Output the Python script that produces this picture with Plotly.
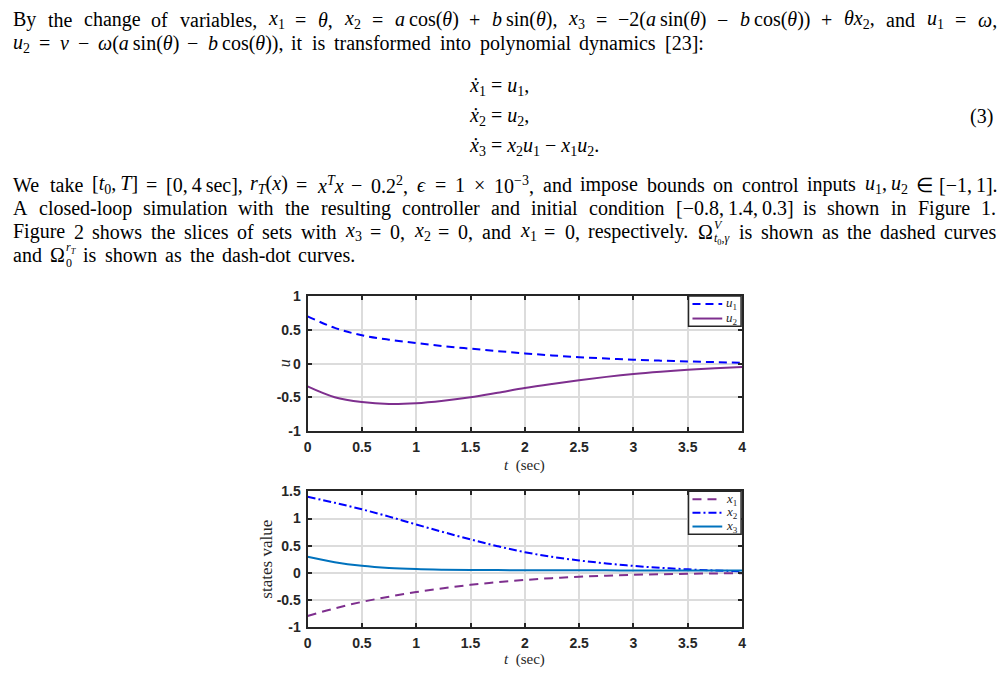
import re
import plotly.graph_objects as go

# ---------------- data ----------------
t = [0, 0.25, 0.5, 0.75, 1, 1.25, 1.5, 1.75, 2, 2.25, 2.5, 2.75, 3, 3.25, 3.5, 3.75, 4]

u1 = [0.70, 0.53, 0.42, 0.355, 0.305, 0.26, 0.222, 0.186, 0.152, 0.122, 0.097, 0.076, 0.058, 0.045, 0.034, 0.023, 0.013]
u2 = [-0.335, -0.495, -0.567, -0.596, -0.585, -0.548, -0.497, -0.43, -0.36, -0.30, -0.245, -0.195, -0.152, -0.118, -0.09, -0.068, -0.05]

x1 = [-0.795, -0.655, -0.536, -0.44, -0.355, -0.285, -0.222, -0.173, -0.132, -0.098, -0.072, -0.052, -0.037, -0.026, -0.018, -0.011, -0.006]
x2 = [1.40, 1.29, 1.17, 1.035, 0.89, 0.75, 0.615, 0.49, 0.38, 0.295, 0.228, 0.172, 0.127, 0.092, 0.064, 0.043, 0.027]
x3 = [0.295, 0.195, 0.128, 0.088, 0.068, 0.058, 0.053, 0.05, 0.048, 0.047, 0.046, 0.045, 0.044, 0.043, 0.043, 0.042, 0.042]

xtick_vals = [0, 0.5, 1, 1.5, 2, 2.5, 3, 3.5, 4]
xtick_text = ["0", "0.5", "1", "1.5", "2", "2.5", "3", "3.5", "4"]
ytick_vals_top = [-1, -0.5, 0, 0.5, 1]
ytick_text_top = ["-1", "-0.5", "0", "0.5", "1"]
ytick_vals_bot = [-1, -0.5, 0, 0.5, 1, 1.5]
ytick_text_bot = ["-1", "-0.5", "0", "0.5", "1", "1.5"]

# ---------------- figure ----------------
W, H = 1005, 681
def px(x):
    return x / W
def py(y):
    return 1 - y / H

BLUE = "#0000FF"
PURPLE = "#7E2F8E"
MBLUE = "#0072BD"
AX = "#262626"

DASH_U1 = "8px,5px"
DASH_X1 = "9px,6px"
DASH_X2 = "8px,3px,2px,3px"

series = [
    (t, u1, BLUE, DASH_U1, ("x", "y"), "<i>u</i><sub>1</sub>"),
    (t, u2, PURPLE, "solid", ("x", "y"), "<i>u</i><sub>2</sub>"),
    (t, x1, PURPLE, DASH_X1, ("x2", "y2"), "<i>x</i><sub>1</sub>"),
    (t, x2, BLUE, DASH_X2, ("x2", "y2"), "<i>x</i><sub>2</sub>"),
    (t, x3, MBLUE, "solid", ("x2", "y2"), "<i>x</i><sub>3</sub>"),
]

fig = go.Figure()
for xs, ys, col, dash, (xa, ya), name in series:
    fig.add_trace(go.Scatter(x=xs, y=ys, mode="lines", name=name, showlegend=False,
                             line=dict(color=col, width=2, dash=dash, shape="spline"),
                             xaxis=xa, yaxis=ya))

tickfont = dict(family="Liberation Sans, Arial, sans-serif", size=14, color=AX, weight="bold")
common_x = dict(range=[0, 4], tickvals=xtick_vals, ticktext=xtick_text, showgrid=True,
                gridcolor="#dcdcdc", gridwidth=1.5, zeroline=False, showline=True,
                linecolor=AX, linewidth=2, mirror="ticks", ticks="inside", ticklen=4,
                tickcolor=AX, tickwidth=2, tickfont=tickfont, ticklabelstandoff=2)
common_y = dict(showgrid=True, gridcolor="#dcdcdc", gridwidth=1.5, zeroline=False,
                showline=True, linecolor=AX, linewidth=2, mirror="ticks", ticks="inside",
                ticklen=4, tickcolor=AX, tickwidth=2, tickfont=tickfont, ticklabelstandoff=2)

xd = [px(306), px(744)]
fig.update_layout(
    width=W, height=H, autosize=False,
    margin=dict(l=0, r=0, t=0, b=0),
    paper_bgcolor="white", plot_bgcolor="white",
    showlegend=False,
    xaxis=dict(domain=xd, anchor="y", **common_x),
    yaxis=dict(domain=[py(433.5), py(295)], anchor="x", range=[-1, 1],
               tickvals=ytick_vals_top, ticktext=ytick_text_top, **common_y),
    xaxis2=dict(domain=xd, anchor="y2", **common_x),
    yaxis2=dict(domain=[py(634), py(495)], anchor="x2", range=[-1, 1.5],
                tickvals=ytick_vals_bot, ticktext=ytick_text_bot, **common_y),
)

# ---------------- manual legends ----------------
def legend_box(x0, y0, x1_, y1_, entries):
    fig.add_shape(type="rect", xref="paper", yref="paper",
                  x0=px(x0), x1=px(x1_), y0=py(y1_), y1=py(y0),
                  line=dict(color=AX, width=1.5), fillcolor="white", layer="above")
    for (yy, col, dash, label) in entries:
        fig.add_shape(type="line", xref="paper", yref="paper",
                      x0=px(x0 + 4), x1=px(x0 + 34), y0=py(yy), y1=py(yy),
                      line=dict(color=col, width=2, dash=dash), layer="above")
        fig.add_annotation(text=label, x=px(x0 + 36), y=py(yy), xref="paper", yref="paper",
                           xanchor="left", yanchor="middle", showarrow=False,
                           font=dict(family="Liberation Serif, serif", size=13, color=AX))

legend_box(690, 295, 743, 326, [
    (303, BLUE, DASH_U1, series[0][5]),
    (318, PURPLE, "solid", series[1][5]),
])
legend_box(690, 495, 743, 539, [
    (503, PURPLE, DASH_X1, series[2][5]),
    (517, BLUE, DASH_X2, series[3][5]),
    (531, MBLUE, "solid", series[4][5]),
])

# ---------------- text ----------------
TF = "Liberation Serif, Times New Roman, serif"
FS = 20
NB = "\u2009"  # tight (thin) space that is never stretched

def txt(s, x, y, anchor="center", size=FS, color="black", family=TF, angle=0):
    fig.add_annotation(text=s, x=px(x), y=py(y), xref="paper", yref="paper",
                       xanchor=anchor, yanchor="middle", showarrow=False,
                       font=dict(family=family, size=size, color=color), textangle=angle)

# approximate Times metrics (em/1000) to justify lines like the typeset page
REG = {" ": 250, "\u2009": 170, "(": 333, ")": 333, "+": 564, ",": 250, "-": 333, ".": 250, ":": 278,
       "=": 564, "[": 333, "]": 333, "−": 564, "×": 564, "Ω": 768, "θ": 500, "ω": 680,
       "γ": 450, "ϵ": 440, "∈": 700, "ẋ": 500,
       "A": 722, "B": 667, "F": 556, "T": 611, "V": 722, "W": 944,
       "a": 444, "b": 500, "c": 444, "d": 500, "e": 444, "f": 333, "g": 500, "h": 500,
       "i": 278, "j": 278, "k": 500, "l": 278, "m": 778, "n": 500, "o": 500, "p": 500,
       "q": 500, "r": 333, "s": 389, "t": 278, "u": 500, "v": 500, "w": 722, "x": 500,
       "y": 500, "z": 444}
ITA = {"a": 500, "b": 500, "t": 278, "u": 500, "v": 444, "x": 444, "r": 389, "T": 556,
       "V": 611, "θ": 500, "ω": 670, "γ": 450, "ϵ": 440, "ẋ": 444}

def est_width(html, size):
    w = 0.0
    ital = False
    depth = 0
    for part in re.split(r"(<[^>]+>)", html):
        if part.startswith("<"):
            tag = part.strip("<>/")
            closing = part.startswith("</")
            if tag == "i":
                ital = not closing
            elif tag in ("sub", "sup"):
                depth += -1 if closing else 1
            continue
        sc = 0.7 ** depth
        for ch in part:
            if ch.isdigit():
                cw = 500
            elif ital and ch in ITA:
                cw = ITA[ch]
            else:
                cw = REG.get(ch, 500)
            w += cw / 1000.0 * size * sc
    return w

# stacked super/subscript tokens (base, sup, sub)
STACKED = {
    "@OMV": ("Ω", "<i>V</i>", "<i>t</i><sub>0</sub>,<i>γ</i>"),
    "@OMR": ("Ω", "<i>r</i><sub><i>T</i></sub>", "0"),
}
SS = 12

def tok_width(tk, size):
    if tk in STACKED:
        b, sp, sb = STACKED[tk]
        return est_width(b, size) + max(est_width(sp, SS), est_width(sb, SS)) + 1
    return est_width(tk, size)

def draw_tok(tk, xx, y, size):
    if tk in STACKED:
        b, sp, sb = STACKED[tk]
        txt(b, xx, y, anchor="left", size=size)
        xs = xx + est_width(b, size) + 1
        txt(sp, xs, y - 7, anchor="left", size=SS)
        txt(sb, xs, y + 8, anchor="left", size=SS)
    else:
        txt(tk, xx, y, anchor="left", size=size)

def justify(html, y, x0=7, x1=998, size=FS):
    toks = html.split(" ")
    ws = [tok_width(tk, size) for tk in toks]
    gap = (x1 - x0 - sum(ws)) / (len(toks) - 1)
    gap = max(gap, 0.2 * size)
    xx = x0
    for tk, w in zip(toks, ws):
        draw_tok(tk, xx, y, size)
        xx += w + gap

def v(name, sub=None):
    s = "<i>%s</i>" % name
    if sub is not None:
        s += "<sub>%s</sub>" % sub
    return s

A_COS = "<i>a</i>" + NB + "cos(<i>θ</i>)"
B_SIN = "<i>b</i>" + NB + "sin(<i>θ</i>)"
A_SIN = "<i>a</i>" + NB + "sin(<i>θ</i>)"
B_COS = "<i>b</i>" + NB + "cos(<i>θ</i>)"

# paragraph 1
justify("By the change of variables, %s = <i>θ</i>, %s = %s + %s, %s = −2(%s − %s) + <i>θ</i>%s, and %s = <i>ω</i>,"
        % (v("x", "1"), v("x", "2"), A_COS, B_SIN, v("x", "3"), A_SIN, B_COS, v("x", "2"), v("u", "1")), 12)
justify("%s = <i>v</i> − <i>ω</i>(%s − %s), it is transformed into polynomial dynamics [23]:"
        % (v("u", "2"), A_SIN, B_COS), 36, x1=703)

# equations
txt("%s = %s," % (v("ẋ", "1"), v("u", "1")), 467, 80, anchor="left")
txt("%s = %s," % (v("ẋ", "2"), v("u", "2")), 467, 111, anchor="left")
txt("%s = %s%s − %s%s." % (v("ẋ", "3"), v("x", "2"), v("u", "1"), v("x", "1"), v("u", "2")), 467, 142, anchor="left")
txt("(3)", 999, 111, anchor="right")

# paragraph 2
justify("We take [%s,%s<i>T</i>] = [0,%s4%ssec], <i>r</i><sub><i>T</i></sub>(<i>x</i>) = <i>x</i><sup><i>T</i></sup><i>x</i> − 0.2<sup>2</sup>, "
        "<i>ϵ</i> = 1 × 10<sup>−3</sup>, and impose bounds on control inputs %s,%s%s ∈ [−1,%s1]."
        % (v("t", "0"), NB, NB, NB, v("u", "1"), NB, v("u", "2"), NB), 181)
justify("A closed-loop simulation with the resulting controller and initial condition [−0.8,%s1.4,%s0.3] is shown in Figure 1."
        % (NB, NB), 205)
justify("Figure 2 shows the slices of sets with %s = 0, %s = 0, and %s = 0, respectively. "
        "@OMV is shown as the dashed curves"
        % (v("x", "3"), v("x", "2"), v("x", "1")), 229)
justify("and @OMR is shown as the dash-dot curves.", 253, x1=352)

# axis titles
txt("<i>t</i>  (sec)", 525, 468, size=15, color=AX)
txt("<i>t</i>  (sec)", 525, 667, size=15, color=AX)
txt("<i>u</i>", 283, 364, size=16, color=AX, angle=-90)
txt("states value", 265, 564, size=17, color=AX, angle=-90)

fig.write_html("out.html")
